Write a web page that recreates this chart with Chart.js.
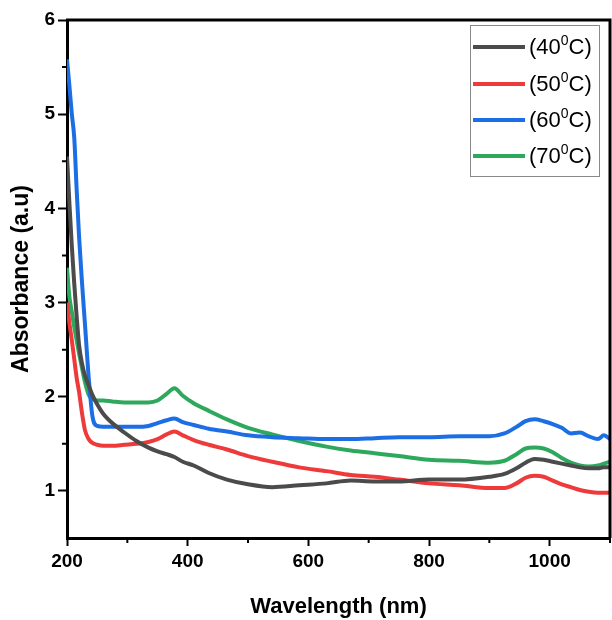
<!DOCTYPE html>
<html>
<head>
<meta charset="utf-8">
<script src="https://cdn.jsdelivr.net/npm/chart.js@4.4.1/dist/chart.umd.min.js"></script>
<style>
  html, body { margin: 0; padding: 0; background: #fff; }
  #wrap { width: 612px; height: 620px; }
</style>
</head>
<body>
<div id="wrap"><canvas id="chart" width="612" height="620"></canvas></div>
<script>
// wavelength samples (nm)
const wavelengths = [200, 204, 208, 212, 216, 220, 225, 230, 236, 242, 250, 260, 275, 295, 315, 335, 350, 365, 378, 392, 410, 435, 465, 500, 540, 585, 630, 670, 710, 750, 800, 850, 900, 925, 945, 960, 975, 990, 1005, 1020, 1035, 1050, 1065, 1080, 1090, 1100];

const abs40 = [4.55, 4.05, 3.6, 3.2, 2.85, 2.55, 2.35, 2.22, 2.12, 2.02, 1.92, 1.82, 1.72, 1.62, 1.53, 1.46, 1.42, 1.39, 1.36, 1.31, 1.27, 1.19, 1.12, 1.07, 1.04, 1.06, 1.08, 1.11, 1.10, 1.10, 1.12, 1.12, 1.15, 1.18, 1.24, 1.30, 1.34, 1.33, 1.31, 1.29, 1.27, 1.25, 1.24, 1.24, 1.25, 1.25];
const abs50 = [3.0, 2.78, 2.6, 2.4, 2.2, 2.05, 1.82, 1.64, 1.55, 1.51, 1.49, 1.48, 1.48, 1.49, 1.50, 1.52, 1.55, 1.60, 1.63, 1.59, 1.54, 1.49, 1.44, 1.37, 1.31, 1.25, 1.21, 1.17, 1.15, 1.12, 1.08, 1.06, 1.03, 1.03, 1.08, 1.14, 1.16, 1.15, 1.11, 1.07, 1.04, 1.01, 0.99, 0.98, 0.98, 0.98];
const abs60 = [5.58, 5.3, 5.0, 4.75, 4.2, 3.7, 3.2, 2.75, 2.2, 1.8, 1.69, 1.68, 1.68, 1.68, 1.68, 1.69, 1.72, 1.75, 1.77, 1.73, 1.70, 1.66, 1.63, 1.59, 1.57, 1.56, 1.55, 1.55, 1.56, 1.57, 1.57, 1.58, 1.58, 1.61, 1.68, 1.74, 1.76, 1.74, 1.71, 1.67, 1.61, 1.62, 1.58, 1.55, 1.59, 1.55];
const abs70 = [3.37, 3.06, 2.9, 2.74, 2.6, 2.46, 2.3, 2.15, 2.02, 1.98, 1.96, 1.96, 1.95, 1.94, 1.94, 1.94, 1.96, 2.03, 2.09, 2.01, 1.93, 1.85, 1.76, 1.67, 1.60, 1.53, 1.47, 1.43, 1.40, 1.37, 1.33, 1.32, 1.30, 1.32, 1.39, 1.45, 1.46, 1.45, 1.41, 1.35, 1.30, 1.27, 1.26, 1.27, 1.29, 1.31];

const seriesNames = ["40", "50", "60", "70"];
const seriesColors = ["#4b4b4b", "#ee3a3a", "#1c6ee4", "#2ea85c"];

const xTicks = [200, 400, 600, 800, 1000];
const xMinorTicks = [300, 500, 700, 900, 1100];
const yTicks = [1, 2, 3, 4, 5, 6];
const yMinorTicks = [1.5, 2.5, 3.5, 4.5, 5.5];

const FONT = "'Liberation Sans', Arial, sans-serif";

function toPoints(values) {
  return wavelengths.map((w, i) => ({ x: w, y: values[i] }));
}

const allSeries = [abs40, abs50, abs60, abs70];

// frame, minor ticks and legend box
const extras = {
  id: "extras",
  afterDraw(chart) {
    const ctx = chart.ctx;
    const area = chart.chartArea;
    const xs = chart.scales.x;
    const ys = chart.scales.y;
    ctx.save();
    ctx.strokeStyle = "#000";
    ctx.lineWidth = 3;
    ctx.beginPath();
    ctx.moveTo(area.left - 1, area.top);
    ctx.lineTo(area.right, area.top);
    ctx.lineTo(area.right, area.bottom);
    ctx.stroke();

    ctx.lineWidth = 2;
    ctx.beginPath();
    xMinorTicks.forEach(v => {
      const px = xs.getPixelForValue(v);
      ctx.moveTo(px, area.bottom);
      ctx.lineTo(px, area.bottom + 5);
    });
    yMinorTicks.forEach(v => {
      const py = ys.getPixelForValue(v);
      ctx.moveTo(area.left, py);
      ctx.lineTo(area.left - 5, py);
    });
    ctx.stroke();

    // legend
    const bx = 470, by = 25, bw = 129, bh = 151;
    ctx.fillStyle = "#fff";
    ctx.fillRect(bx, by, bw, bh);
    ctx.strokeStyle = "#8a8a8a";
    ctx.lineWidth = 1;
    ctx.strokeRect(bx + 0.5, by + 0.5, bw, bh);
    const rows = [47, 84, 120, 156];
    seriesNames.forEach((name, i) => {
      const y = rows[i];
      ctx.strokeStyle = seriesColors[i];
      ctx.lineWidth = 4;
      ctx.beginPath();
      ctx.moveTo(473, y);
      ctx.lineTo(525, y);
      ctx.stroke();
      ctx.fillStyle = "#000";
      ctx.textBaseline = "middle";
      ctx.textAlign = "left";
      ctx.font = "22px " + FONT;
      let tx = 529;
      const part1 = "(" + name;
      ctx.fillText(part1, tx, y + 1);
      tx += ctx.measureText(part1).width;
      ctx.font = "14px " + FONT;
      ctx.fillText("0", tx, y - 6);
      tx += ctx.measureText("0").width;
      ctx.font = "22px " + FONT;
      ctx.fillText("C)", tx, y + 1);
    });
    ctx.restore();
  }
};

new Chart(document.getElementById("chart"), {
  type: "line",
  data: {
    datasets: allSeries.map((vals, i) => ({
      label: "(" + seriesNames[i] + "\u2070C)",
      data: toPoints(vals),
      borderColor: seriesColors[i],
      borderWidth: 4,
      pointRadius: 0,
      fill: false,
      cubicInterpolationMode: "monotone"
    }))
  },
  options: {
    responsive: false,
    animation: false,
    layout: { padding: { top: 20, right: 2, left: 0, bottom: 0 } },
    plugins: {
      legend: { display: false },
      tooltip: { enabled: false }
    },
    scales: {
      x: {
        type: "linear",
        min: 200,
        max: 1100,
        afterBuildTicks: scale => { scale.ticks = xTicks.map(v => ({ value: v })); },
        afterFit: scale => { scale.height = 82; },
        ticks: {
          color: "#000",
          font: { family: FONT, size: 19, weight: "bold" },
          padding: 4,
          maxRotation: 0,
          callback: v => String(v)
        },
        grid: { drawOnChartArea: false, tickLength: 8, tickColor: "#000", tickWidth: 2 },
        border: { display: true, color: "#000", width: 3 },
        title: {
          display: true,
          text: "Wavelength (nm)",
          color: "#000",
          font: { family: FONT, size: 22, weight: "bold" },
          padding: { top: 4, bottom: 0 }
        }
      },
      y: {
        type: "linear",
        min: 0.5,
        max: 6,
        afterBuildTicks: scale => { scale.ticks = yTicks.map(v => ({ value: v })); },
        afterFit: scale => { scale.width = 67; },
        ticks: {
          color: "#000",
          font: { family: FONT, size: 19, weight: "bold" },
          padding: 3,
          callback: v => String(v)
        },
        grid: { drawOnChartArea: false, tickLength: 9, tickColor: "#000", tickWidth: 2 },
        border: { display: true, color: "#000", width: 3 },
        title: {
          display: true,
          text: "Absorbance (a.u)",
          color: "#000",
          font: { family: FONT, size: 23, weight: "bold" },
          padding: { top: 8, bottom: 0 }
        }
      }
    }
  },
  plugins: [extras]
});
</script>
</body>
</html>
